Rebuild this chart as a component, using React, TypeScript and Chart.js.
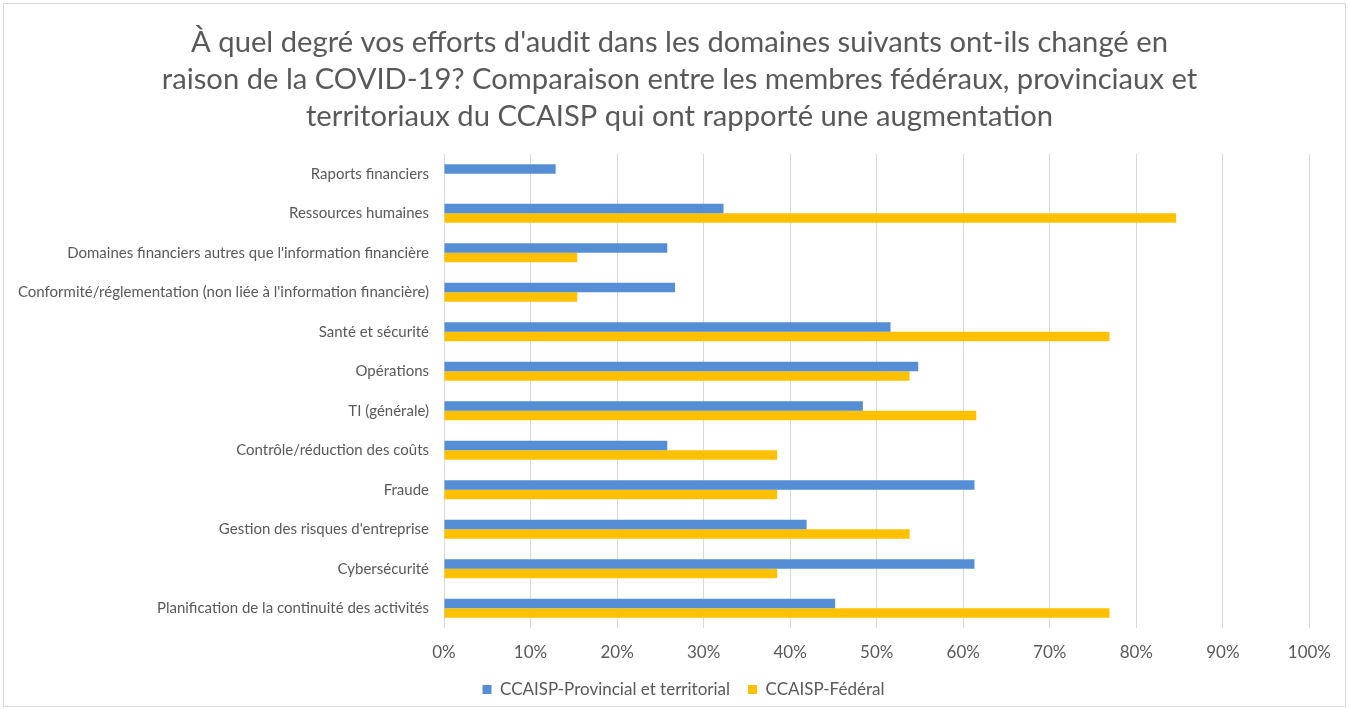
import React, { useEffect, useRef } from "react";
import { Chart, registerables } from "chart.js";

Chart.register(...registerables);

const titleLines = [
  "À quel degré vos efforts d'audit dans les domaines suivants ont-ils changé en",
  "raison de la COVID-19? Comparaison entre les membres fédéraux, provinciaux et",
  "territoriaux du CCAISP qui ont rapporté une augmentation",
];

const categories = [
  "Raports financiers",
  "Ressources humaines",
  "Domaines financiers autres que l'information financière",
  "Conformité/réglementation (non liée à l'information financière)",
  "Santé et sécurité",
  "Opérations",
  "TI (générale)",
  "Contrôle/réduction des coûts",
  "Fraude",
  "Gestion des risques d'entreprise",
  "Cybersécurité",
  "Planification de la continuité des activités",
];

const seriesNames = ["CCAISP-Provincial et territorial", "CCAISP-Fédéral"];

const provincialValues = [12.9, 32.3, 25.8, 26.7, 51.6, 54.8, 48.4, 25.8, 61.3, 41.9, 61.3, 45.2];
const federalValues = [null, 84.6, 15.4, 15.4, 76.9, 53.8, 61.5, 38.5, 38.5, 53.8, 38.5, 76.9];

const xTickValues = [0, 10, 20, 30, 40, 50, 60, 70, 80, 90, 100];

const BLUE = "#558ED5";
const YELLOW = "#FFC000";
const TEXT = "#595959";
const GRID = "#D9D9D9";
const FONT = "Lato";

// Centre the title and legend on the whole frame, as in the reference.
const recentreBlocks = {
  id: "recentreBlocks",
  afterLayout(chart: any) {
    const t = chart.titleBlock;
    if (t) {
      t.left = 10;
      t.right = chart.width;
    }
    const l = chart.legend;
    if (l) {
      l.left = 18;
      l.right = chart.width;
      l.top += 2;
      l.bottom += 2;
    }
  },
};

export default function App() {
  const canvasRef = useRef<HTMLCanvasElement | null>(null);

  useEffect(() => {
    if (!canvasRef.current) return;
    const chart = new Chart(canvasRef.current, {
      type: "bar",
      data: {
        labels: categories,
        datasets: [
          {
            label: seriesNames[0],
            data: provincialValues,
            backgroundColor: BLUE,
            categoryPercentage: 0.48,
            barPercentage: 1,
          },
          {
            label: seriesNames[1],
            data: federalValues,
            backgroundColor: YELLOW,
            categoryPercentage: 0.48,
            barPercentage: 1,
          },
        ],
      },
      plugins: [recentreBlocks],
      options: {
        indexAxis: "y",
        animation: false,
        responsive: true,
        maintainAspectRatio: false,
        layout: { padding: { left: 0, right: 35, top: 0, bottom: 0 } },
        scales: {
          x: {
            min: 0,
            max: 100,
            afterBuildTicks: (scale: any) => {
              scale.ticks = xTickValues.map((v) => ({ value: v }));
            },
            afterFit: (scale: any) => {
              scale.height = 33;
            },
            grid: { color: GRID, lineWidth: 1, drawTicks: false },
            border: { display: false },
            ticks: {
              padding: 14,
              color: TEXT,
              font: { family: FONT, size: 17 },
              callback: (v: any) => v + "%",
              maxRotation: 0,
            },
          },
          y: {
            afterFit: (scale: any) => {
              scale.width = 440;
            },
            grid: { display: false, drawTicks: false },
            border: { display: false },
            ticks: {
              padding: 15,
              color: TEXT,
              font: { family: FONT, size: 15 },
              autoSkip: false,
            },
          },
        },
        plugins: {
          title: {
            display: true,
            text: titleLines,
            color: TEXT,
            font: { family: FONT, size: 29.2, weight: "normal", lineHeight: 1.267 },
            padding: { top: 20.5, bottom: 18.5 },
          },
          legend: {
            display: true,
            position: "bottom",
            labels: {
              boxWidth: 9,
              boxHeight: 9,
              padding: 18,
              color: TEXT,
              font: { family: FONT, size: 17 },
            },
          },
          tooltip: { enabled: false },
        },
      },
    });
    return () => chart.destroy();
  }, []);

  return (
    <div
      style={{
        position: "absolute",
        left: 3,
        top: 3,
        width: 1343,
        height: 704,
        border: "1px solid #D9D9D9",
        boxSizing: "border-box",
        background: "#fff",
      }}
    >
      <div style={{ position: "relative", width: "100%", height: "100%" }}>
        <canvas ref={canvasRef} />
      </div>
    </div>
  );
}
